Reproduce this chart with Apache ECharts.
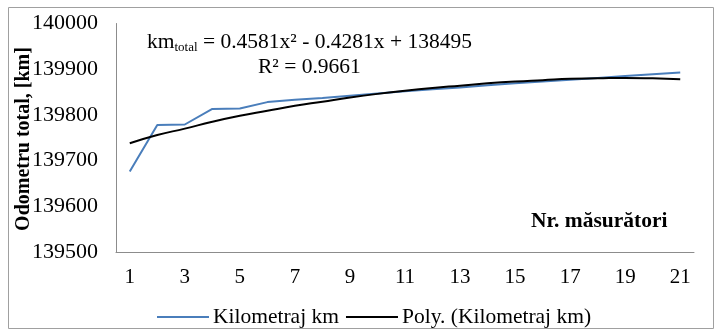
<!DOCTYPE html>
<html>
<head>
<meta charset="utf-8">
<style>
  html, body { margin: 0; padding: 0; background: #fff; }
  #chart { width: 715px; height: 330px; }
</style>
<script src="https://cdn.jsdelivr.net/npm/echarts@6/dist/echarts.min.js"></script>
</head>
<body>
<div id="chart"></div>
<script>
// Measurement number (x) and total odometer reading (km)
const measurements = ['1','2','3','4','5','6','7','8','9','10','11','12','13','14','15','16','17','18','19','20','21'];
const odometerKm = [139676, 139778, 139779, 139813, 139814, 139828, 139833, 139837, 139842, 139847,
                    139852, 139856, 139860, 139865, 139869, 139873, 139877, 139881, 139885, 139889, 139893];
// Second-order polynomial trend line values at each measurement
const polyTrendKm = [139738, 139756, 139770, 139785, 139798, 139809, 139820, 139829, 139838, 139846,
                     139853, 139859, 139864, 139869, 139873, 139876, 139879, 139880, 139881, 139880, 139878];
const yTicks = { min: 139500, max: 140000, step: 100 };

const serif = '"Liberation Serif", "Times New Roman", serif';
const chart = echarts.init(document.getElementById('chart'), null, { renderer: 'canvas' });

chart.setOption({
  animation: false,
  backgroundColor: '#fff',
  grid: { left: 116, right: 21, top: 23.5, bottom: 78, containLabel: false },
  xAxis: {
    type: 'category',
    data: measurements,
    boundaryGap: true,
    axisLine: { lineStyle: { color: '#8c8c8c', width: 1 } },
    axisTick: { show: false },
    axisLabel: { interval: 1, color: '#000', fontFamily: serif, fontSize: 21, margin: 15 },
    splitLine: { show: false }
  },
  yAxis: {
    type: 'value',
    min: yTicks.min, max: yTicks.max, interval: yTicks.step,
    axisLine: { show: true, lineStyle: { color: '#8c8c8c', width: 1 } },
    axisTick: { show: false },
    axisLabel: { color: '#000', fontFamily: serif, fontSize: 22, margin: 18, formatter: v => String(v) },
    splitLine: { show: false }
  },
  legend: {
    top: 301,
    left: 152,
    icon: 'rect',
    itemWidth: 52,
    itemHeight: 2,
    itemGap: 7,
    textStyle: { color: '#000', fontFamily: serif, fontSize: 21.5, padding: [0, 0, 0, -1] },
    data: ['Kilometraj km', 'Poly. (Kilometraj km)']
  },
  series: [
    {
      name: 'Kilometraj km',
      type: 'line',
      data: odometerKm,
      symbol: 'none',
      lineStyle: { color: '#4a7ebb', width: 2 },
      itemStyle: { color: '#4a7ebb' },
      z: 2
    },
    {
      name: 'Poly. (Kilometraj km)',
      type: 'line',
      data: polyTrendKm,
      symbol: 'none',
      smooth: true,
      lineStyle: { color: '#000', width: 2 },
      itemStyle: { color: '#000' },
      z: 3
    }
  ],
  graphic: [
    {
      type: 'rect',
      shape: { x: 8.5, y: 7.5, width: 705, height: 321 },
      style: { fill: 'none', stroke: '#a0a0a0', lineWidth: 1 },
      silent: true
    },
    {
      // vertical value-axis title
      type: 'text',
      x: 24, y: 139,
      rotation: Math.PI / 2,
      style: {
        text: 'Odometru total, [km]',
        fontFamily: serif, fontSize: 20, fontWeight: 'bold', fill: '#000',
        align: 'center', verticalAlign: 'middle'
      }
    },
    {
      type: 'text',
      left: 147, top: 31,
      style: {
        text: '{n|km}{s|total}{n| = 0.4581x² - 0.4281x + 138495}',
        rich: {
          n: { fontFamily: serif, fontSize: 21.5, fill: '#000' },
          s: { fontFamily: serif, fontSize: 13, fill: '#000', verticalAlign: 'bottom', padding: [11, 0, 0, 0] }
        }
      }
    },
    {
      type: 'text',
      left: 258, top: 56,
      style: { text: 'R² = 0.9661', fontFamily: serif, fontSize: 21.5, fill: '#000' }
    },
    {
      type: 'text',
      left: 531, top: 210,
      style: { text: 'Nr. măsurători', fontFamily: serif, fontSize: 21.5, fontWeight: 'bold', fill: '#000' }
    }
  ]
});
</script>
</body>
</html>
